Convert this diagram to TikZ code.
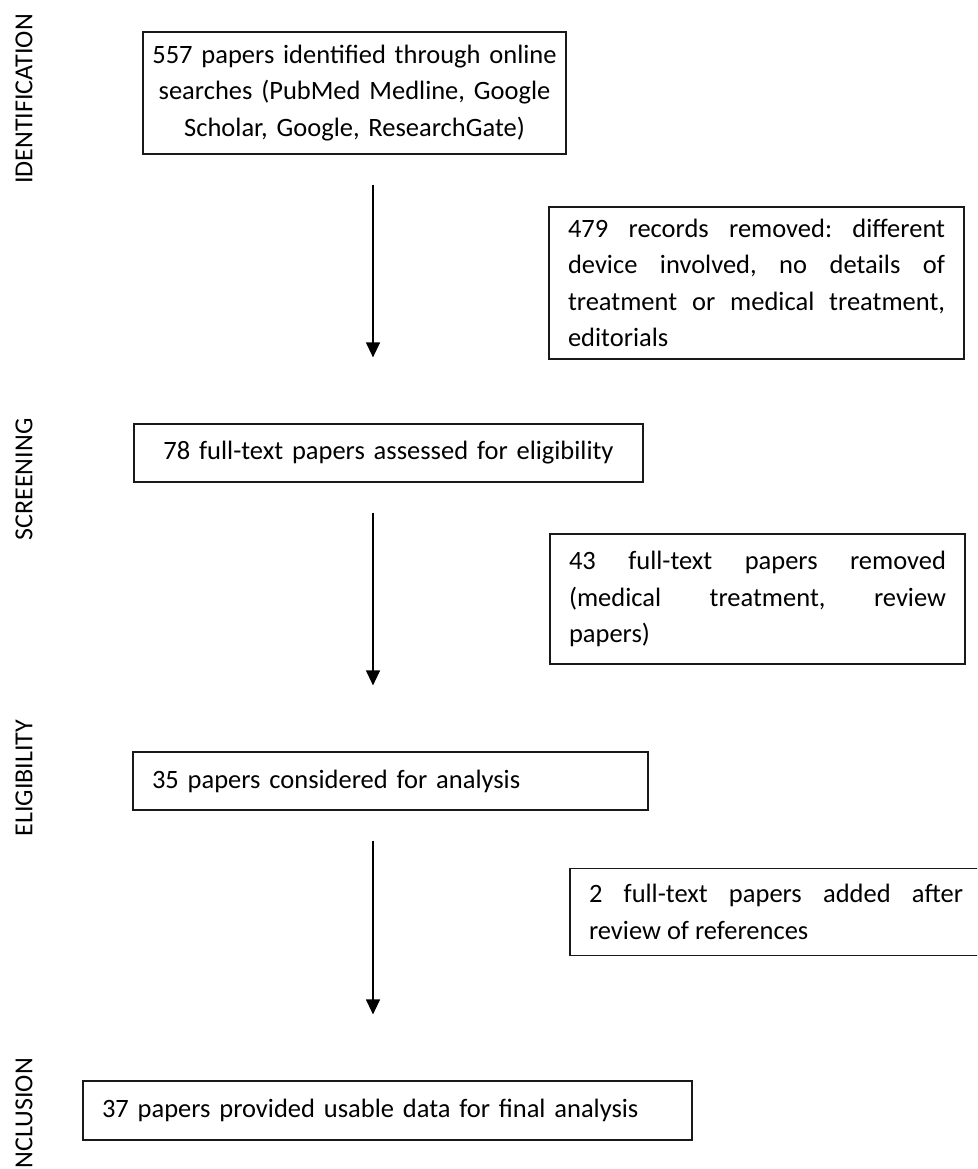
\documentclass[tikz,border=0pt]{standalone}
\usepackage{fontspec}
\setmainfont{Carlito}
\usetikzlibrary{arrows.meta}
\hyphenpenalty=10000
\exhyphenpenalty=10000
\frenchspacing
\begin{document}
\begin{tikzpicture}[x=1pt,y=-1pt,
  box/.style={draw=black!90, line width=1.2pt, inner xsep=19pt, inner ysep=0pt,
    font=\fontsize{26.5}{36.5}\selectfont},
  lab/.style={rotate=90, inner sep=0pt, font=\fontsize{26}{30}\selectfont},
  arr/.style={line width=1.2pt, -{Triangle[width=14pt,length=15pt]},
    shorten <=30pt, shorten >=66pt}]
\useasboundingbox (0,0) rectangle (977,1169);
\clip (0,0) rectangle (977,1169);

% stage labels
\node[lab] (lid) at (24,99) {IDENTIFICATION};
\node[lab] (lsc) at (24,479.5) {SCREENING};
\node[lab] (lel) at (24,778) {ELIGIBILITY};
\node[lab, anchor=east] (lin) at (24,1058) {INCLUSION};

% main boxes
\node[box, inner xsep=3pt, text width=417pt, minimum height=122pt, align=center] (b1) at (354.5,93)
  {557 papers identified through online\\searches (PubMed Medline, Google\\Scholar, Google, ResearchGate)};
\node[box, text width=471pt, minimum height=58pt, align=center] (b3) at (388.5,453)
  {78 full-text papers assessed for eligibility};
\node[box, text width=477pt, minimum height=58pt, align=left] (b5) at (390.5,781)
  {35 papers considered for analysis};
\node[box, text width=571pt, minimum height=59pt, align=left] (b7) at (387.5,1110.5)
  {37 papers provided usable data for final analysis};

% side boxes
\node[box, text width=377pt, minimum height=152pt, align=justify] (b2) at (756.5,283)
  {479 records removed: different\linebreak device involved, no details of\linebreak treatment or medical treatment,\linebreak editorials};
\node[box, text width=377pt, minimum height=130pt, align=justify] (b4) at (757.5,599)
  {43 full-text papers removed\linebreak (medical treatment, review\linebreak papers)};
\node[box, text width=374pt, minimum height=87pt, align=justify] (b6) at (776,912)
  {2 full-text papers added after\linebreak review of references};

% arrows
\coordinate (ax) at (373,0);
\draw[arr] (b1.south -| ax) -- (b3.north -| ax);
\draw[arr] (b3.south -| ax) -- (b5.north -| ax);
\draw[arr] (b5.south -| ax) -- (b7.north -| ax);
\end{tikzpicture}
\end{document}
